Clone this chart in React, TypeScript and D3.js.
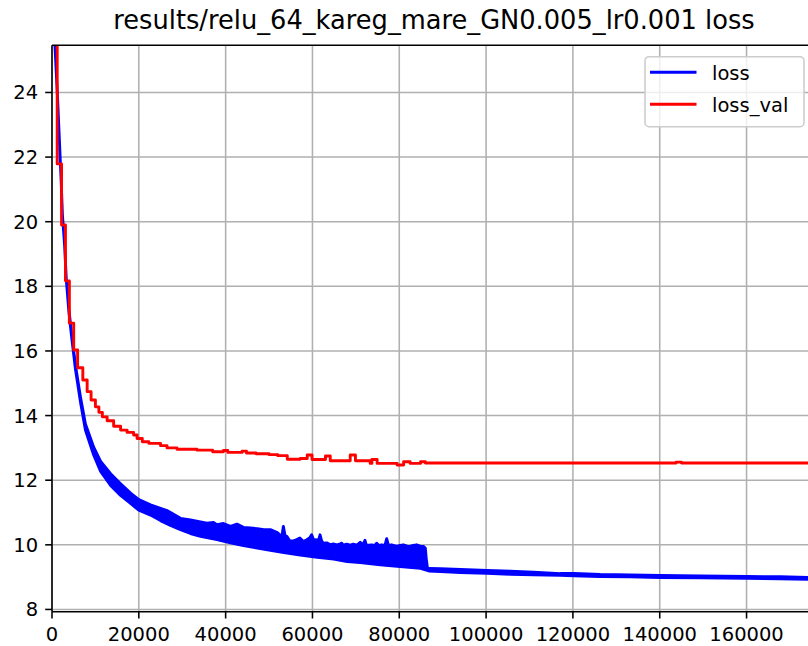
import React from "react";
import * as d3 from "d3";

// Training loss: the raw curve is a dense, noisy trace, kept here as its
// upper and lower envelope (each with its own iteration samples).
const lossHighIter = [
  500, 1300, 1700, 2100, 2400, 2900, 3300, 3900, 4500, 5400, 6600, 7700, 9600,
  11200, 13500, 15800, 18100, 20000, 22700, 25000, 26500, 27300, 29600, 31900,
  34200, 35700, 37200, 38000, 39500, 41100, 42600, 44100, 45700, 47300, 48800,
  50300, 51900, 52500, 53000, 53300, 53700, 54100, 54800, 55600, 56400, 57100,
  57900, 58700, 59400, 59800, 60300, 60600, 61400, 61750, 62100, 62500, 63300,
  64100, 64800, 65600, 66400, 66750, 67100, 67900, 68700, 69400, 70300, 71000,
  71600, 72100, 72400, 73000, 73650, 74400, 74800, 75300, 75950, 76700, 77100,
  77500, 78250, 79400, 80200, 80950, 81800, 82500, 83200, 84000, 84800, 85550,
  86000, 86200, 86500, 86800, 89500, 94100, 100200, 105600, 110900, 117100,
  120200, 126300, 133200, 140100, 149300, 160100, 167700, 176000,
];
const lossHigh = [
  25.93, 23.77, 22.53, 21.29, 20.21, 19.28, 18.2, 17.27, 16.55, 15.56, 14.54,
  13.74, 13.02, 12.58, 12.2, 11.89, 11.6, 11.4, 11.24, 11.13, 11.06, 11.0,
  10.82, 10.77, 10.71, 10.67, 10.69, 10.62, 10.66, 10.57, 10.64, 10.54, 10.52,
  10.5, 10.47, 10.47, 10.38, 10.3, 10.3, 10.57, 10.28, 10.26, 10.12, 10.12,
  10.16, 10.21, 10.1, 10.16, 10.22, 10.31, 10.14, 10.16, 10.14, 10.31, 10.12,
  10.05, 10.06, 10.0, 10.03, 10.0, 10.03, 10.05, 9.99, 10.02, 9.99, 10.02, 9.99,
  10.08, 10.0, 10.14, 10.0, 9.99, 10.0, 9.98, 10.05, 9.98, 10.0, 9.98, 10.19,
  9.98, 10.0, 9.95, 9.98, 10.0, 9.96, 9.95, 9.98, 10.0, 9.96, 9.95, 9.9, 9.59,
  9.27, 9.27, 9.26, 9.24, 9.21, 9.18, 9.15, 9.11, 9.11, 9.08, 9.07, 9.05, 9.04,
  9.02, 9.01, 8.98,
];
const lossLowIter = [
  500, 1300, 1700, 2100, 2400, 2900, 3300, 3900, 4500, 5400, 6600, 7700, 9600,
  11200, 13500, 15800, 18100, 20000, 22700, 25000, 27300, 29600, 31900, 34200,
  38000, 41100, 44100, 47300, 50300, 53400, 57200, 61100, 64900, 68000, 71000,
  75600, 80200, 84900, 86800, 89500, 94100, 100200, 105600, 110900, 117100,
  120200, 126300, 133200, 140100, 149300, 160100, 167700, 176000,
];
const lossLow = [
  25.93, 23.77, 22.53, 21.29, 20.21, 19.28, 18.2, 17.2, 16.46, 15.44, 14.39,
  13.55, 12.78, 12.27, 11.84, 11.53, 11.28, 11.07, 10.92, 10.75, 10.6, 10.47,
  10.35, 10.26, 10.16, 10.06, 9.98, 9.9, 9.83, 9.76, 9.68, 9.61, 9.56, 9.48,
  9.45, 9.38, 9.33, 9.27, 9.19, 9.17, 9.14, 9.12, 9.09, 9.07, 9.06, 9.04, 9.02,
  9.01, 8.99, 8.98, 8.96, 8.95, 8.93,
];

// Validation loss, held constant between evaluations (step plot).
const valIter = [
  300, 1200, 2200, 3100, 4000, 5000, 5900, 7100, 8100, 9000, 10000, 10800,
  11600, 12700, 14200, 15800, 17300, 18800, 19600, 20800, 22300, 25000, 26500,
  28800, 33400, 37000, 39500, 40500, 43800, 44800, 47000, 50000, 52000, 54200,
  57200, 58800, 59900, 63000, 64100, 68700, 69900, 73300, 73700, 74900, 79500,
  81000, 82500, 84900, 86000, 143800, 145000, 176000,
];
const valLoss = [
  26.24, 21.79, 19.9, 18.17, 16.86, 16.03, 15.48, 15.1, 14.74, 14.48, 14.27,
  14.1, 13.96, 13.84, 13.67, 13.55, 13.48, 13.4, 13.29, 13.19, 13.14, 13.07,
  13.0, 12.96, 12.93, 12.88, 12.92, 12.86, 12.9, 12.84, 12.82, 12.79, 12.76,
  12.65, 12.67, 12.78, 12.64, 12.75, 12.6, 12.78, 12.6, 12.52, 12.64, 12.52,
  12.47, 12.57, 12.52, 12.57, 12.53, 12.56, 12.53, 12.53,
];

const xTicks = [0, 20000, 40000, 60000, 80000, 100000, 120000, 140000, 160000];
const yTicks = [8, 10, 12, 14, 16, 18, 20, 22, 24];
const legendLabels = ["loss", "loss_val"];
const seriesColors = ["#0000ff", "#ff0000"];
const title = "results/relu_64_kareg_mare_GN0.005_lr0.001 loss";

const W = 808;
const H = 646;
const left = 52;
const right = 816;
const top = 45.3;
const bottom = 611.7;
const FONT = "'DejaVu Sans', sans-serif";
const lw = 2.9;

export default function App() {
  const x = d3.scaleLinear().domain([0, 176000]).range([left, right]);
  const y = d3.scaleLinear().domain([7.93, 25.46]).range([bottom, top]);

  // envelope polygon: upper edge left→right, lower edge right→left
  const upper: [number, number][] = lossHighIter.map((it, i) => [x(it), y(lossHigh[i])]);
  const lower: [number, number][] = lossLowIter
    .map((it, i) => [x(it), y(lossLow[i])] as [number, number])
    .reverse();
  const bandPath = d3.line().curve(d3.curveLinearClosed)([...upper, ...lower]) || "";

  const valLine = d3
    .line<number>()
    .x((_, i) => x(valIter[i]))
    .y((d) => y(d))
    .curve(d3.curveStepAfter);

  return (
    <div style={{ position: "absolute", left: 0, top: 0 }}>
      <svg width={W} height={H} style={{ display: "block", background: "#fff" }}>
        <defs>
          <clipPath id="plot-clip">
            <rect x={left} y={top} width={right - left} height={bottom - top} />
          </clipPath>
        </defs>
        <text
          x={(left + right) / 2}
          y={29}
          textAnchor="middle"
          fontFamily={FONT}
          fontSize={25.7}
          fill="#000"
        >
          {title}
        </text>

        {/* grid */}
        <g stroke="#b0b0b0" strokeWidth={1.56}>
          {xTicks.map((t) => (
            <line key={"gx" + t} x1={x(t)} x2={x(t)} y1={top} y2={bottom} />
          ))}
          {yTicks.map((t) => (
            <line key={"gy" + t} x1={left} x2={right} y1={y(t)} y2={y(t)} />
          ))}
        </g>

        <g clipPath="url(#plot-clip)">
          <path
            d={bandPath}
            fill={seriesColors[0]}
            stroke={seriesColors[0]}
            strokeWidth={lw}
            strokeLinejoin="round"
          />
          <path
            d={valLine(valLoss) || ""}
            fill="none"
            stroke={seriesColors[1]}
            strokeWidth={lw}
            strokeLinejoin="round"
          />
        </g>

        {/* spines */}
        <g stroke="#000" strokeWidth={1.56} fill="none">
          <line x1={left} x2={left} y1={top} y2={bottom} />
          <line x1={left} x2={right} y1={bottom} y2={bottom} />
          <line x1={left} x2={right} y1={top} y2={top} />
        </g>

        {/* axes ticks and labels */}
        <g fontFamily={FONT} fontSize={19.5} fill="#000">
          {xTicks.map((t) => (
            <g key={"xt" + t}>
              <line x1={x(t)} x2={x(t)} y1={bottom} y2={bottom + 6.8} stroke="#000" strokeWidth={1.56} />
              <text x={x(t)} y={641} textAnchor="middle">
                {String(t)}
              </text>
            </g>
          ))}
          {yTicks.map((t) => (
            <g key={"yt" + t}>
              <line x1={left - 6.8} x2={left} y1={y(t)} y2={y(t)} stroke="#000" strokeWidth={1.56} />
              <text x={left - 6.8 - 7} y={y(t) + 7} textAnchor="end">
                {String(t)}
              </text>
            </g>
          ))}
        </g>

        {/* legend */}
        <g fontFamily={FONT} fontSize={19.5}>
          <rect
            x={645}
            y={56.7}
            width={159}
            height={70}
            rx={4}
            fill="#fff"
            fillOpacity={0.8}
            stroke="#cccccc"
            strokeWidth={1.56}
          />
          {legendLabels.map((lab, i) => (
            <g key={lab}>
              <line
                x1={650}
                x2={696.5}
                y1={72.3 + i * 32}
                y2={72.3 + i * 32}
                stroke={seriesColors[i]}
                strokeWidth={lw}
              />
              <text x={712} y={79.5 + i * 32} fill="#000">
                {lab}
              </text>
            </g>
          ))}
        </g>
      </svg>
    </div>
  );
}
